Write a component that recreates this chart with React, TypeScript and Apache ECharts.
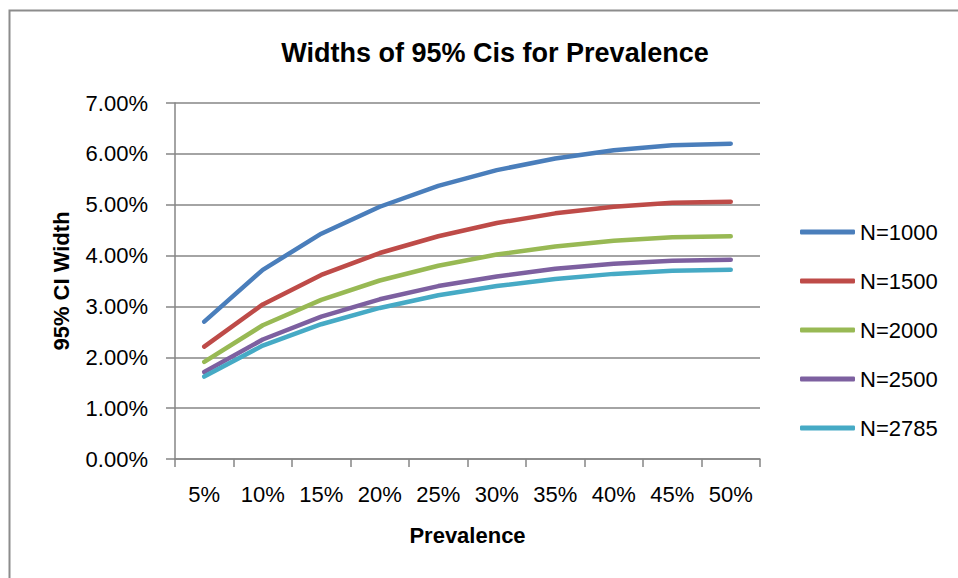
import React, { useEffect, useRef } from "react";
import * as echarts from "echarts";

const categories = ["5%", "10%", "15%", "20%", "25%", "30%", "35%", "40%", "45%", "50%"];
const seriesNames = ["N=1000", "N=1500", "N=2000", "N=2500", "N=2785"];
const n1000 = [0.0270, 0.0372, 0.0443, 0.0496, 0.0537, 0.0568, 0.0591, 0.0607, 0.0617, 0.0620];
const n1500 = [0.0221, 0.0304, 0.0362, 0.0405, 0.0438, 0.0464, 0.0483, 0.0496, 0.0504, 0.0506];
const n2000 = [0.0191, 0.0263, 0.0313, 0.0351, 0.0380, 0.0402, 0.0418, 0.0429, 0.0436, 0.0438];
const n2500 = [0.0171, 0.0235, 0.0280, 0.0314, 0.0340, 0.0359, 0.0374, 0.0384, 0.0390, 0.0392];
const n2785 = [0.0162, 0.0223, 0.0265, 0.0297, 0.0322, 0.0340, 0.0354, 0.0364, 0.0370, 0.0372];
const seriesData = [n1000, n1500, n2000, n2500, n2785];
const colors = ["#4A7EBB", "#BE4B48", "#98B954", "#7D60A0", "#46AAC5"];

const FONT = "'Liberation Sans', Arial, sans-serif";

export default function App() {
  const ref = useRef<HTMLDivElement>(null);
  useEffect(() => {
    if (!ref.current) return;
    const chart = echarts.init(ref.current, undefined, { renderer: "svg" });
    chart.setOption({
      animation: false,
      backgroundColor: "#ffffff",
      color: colors,
      textStyle: { fontFamily: FONT },
      title: {
        text: "Widths of 95% Cis for Prevalence",
        left: 490,
        top: 34,
        textAlign: "center",
        textStyle: { fontFamily: FONT, fontSize: 27, fontWeight: "bold", color: "#000" },
      },
      graphic: [
        {
          type: "rect",
          shape: { x: 9.5, y: 10.5, width: 1000, height: 600 },
          style: { fill: "none", stroke: "#8c8c8c", lineWidth: 2 },
          silent: true,
        },
      ],
      legend: {
        orient: "vertical",
        left: 795,
        top: 216,
        icon: "roundRect",
        itemWidth: 55,
        itemHeight: 5,
        itemGap: 27,
        textStyle: { fontFamily: FONT, fontSize: 22, color: "#000" },
        data: seriesNames,
      },
      grid: { left: 175, right: 198, top: 103, bottom: 119, containLabel: false },
      xAxis: {
        type: "category",
        data: categories,
        boundaryGap: true,
        name: "Prevalence",
        nameLocation: "middle",
        nameGap: 65,
        nameTextStyle: { fontFamily: FONT, fontSize: 22, fontWeight: "bold", color: "#000", verticalAlign: "top" },
        axisLine: { lineStyle: { color: "#868686", width: 1.5 } },
        axisTick: { show: true, length: 8, interval: 0, lineStyle: { color: "#868686", width: 1.5 } },
        axisLabel: { interval: 0, margin: 24, fontFamily: FONT, fontSize: 22, color: "#000" },
      },
      yAxis: {
        type: "value",
        min: 0,
        max: 0.07,
        interval: 0.01,
        name: "95% CI Width",
        nameLocation: "middle",
        nameGap: 103,
        nameTextStyle: { fontFamily: FONT, fontSize: 22, fontWeight: "bold", color: "#000" },
        axisLine: { show: true, lineStyle: { color: "#868686", width: 1.5 } },
        axisTick: { show: true, length: 9, lineStyle: { color: "#868686", width: 1.5 } },
        axisLabel: {
          margin: 27,
          fontFamily: FONT,
          fontSize: 22,
          color: "#000",
          formatter: (v: number) => (v * 100).toFixed(2) + "%",
        },
        splitLine: { show: true, lineStyle: { color: "#868686", width: 1.5 } },
      },
      series: seriesNames.map((name, i) => ({
        name,
        type: "line",
        data: seriesData[i],
        symbol: "none",
        smooth: false,
        lineStyle: { width: 4.5, color: colors[i], cap: "round", join: "round" },
        itemStyle: { color: colors[i] },
      })),
    });
    return () => chart.dispose();
  }, []);
  return <div ref={ref} style={{ width: 958, height: 578, position: "absolute", left: 0, top: 0 }} />;
}
